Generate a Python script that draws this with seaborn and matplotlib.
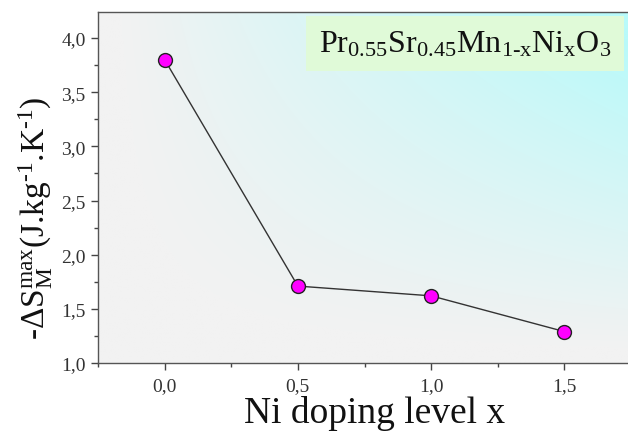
import numpy as np
import matplotlib
matplotlib.use("Agg")
import matplotlib.pyplot as plt
import seaborn as sns
from matplotlib.ticker import MultipleLocator, FuncFormatter
from matplotlib.colors import to_rgb

# data
doping = [0.0, 0.5, 1.0, 1.5]
neg_dS = [3.80, 1.71, 1.62, 1.29]
x_ticks = [0.0, 0.5, 1.0, 1.5]
y_ticks = [1.0, 1.5, 2.0, 2.5, 3.0, 3.5, 4.0]

sns.set_theme(style="ticks")
plt.rcParams["font.family"] = ["Liberation Serif", "DejaVu Serif"]
plt.rcParams["mathtext.fontset"] = "custom"
plt.rcParams["mathtext.rm"] = "Liberation Serif"
plt.rcParams["mathtext.it"] = "Liberation Serif:italic"
plt.rcParams["mathtext.bf"] = "Liberation Serif:bold"

fig = plt.figure(figsize=(6.28, 4.35), dpi=100)
ax = fig.add_axes([98 / 628, 71 / 435, 533 / 628, 351 / 435])

xlim = (-0.25, 1.75)
ylim = (1.0, 4.24)

# gradient background
nx, ny = 300, 200
gx = np.linspace(0, 1, nx)[None, :]
gy = np.linspace(0, 1, ny)[:, None]
t = np.clip(gx * gy * 1.15 - 0.05, 0, 1)
gray = np.array(to_rgb("#f2f2f2"))
cyan = np.array(to_rgb("#b8fafa"))
img = gray[None, None, :] * (1 - t[..., None]) + cyan[None, None, :] * t[..., None]
ax.imshow(img, extent=[xlim[0], xlim[1], ylim[0], ylim[1]], origin="lower",
          aspect="auto", zorder=0, interpolation="bilinear")

sns.lineplot(x=doping, y=neg_dS, ax=ax, color="#333333", linewidth=1.0,
             marker="o", markersize=10, markerfacecolor="#ff00ff",
             markeredgecolor="#222222", markeredgewidth=1.0, zorder=3)

ax.set_xlim(*xlim)
ax.set_ylim(*ylim)
ax.set_xticks(x_ticks)
ax.set_yticks(y_ticks)
ax.xaxis.set_minor_locator(MultipleLocator(0.25))
ax.yaxis.set_minor_locator(MultipleLocator(0.25))
fmt = FuncFormatter(lambda v, p: f"{v:.1f}".replace(".", ","))
ax.xaxis.set_major_formatter(fmt)
ax.yaxis.set_major_formatter(fmt)

ax.tick_params(axis="both", which="major", direction="out", length=5, width=1,
               color="#444444", labelsize=14, labelcolor="#333333", pad=4)
ax.tick_params(axis="x", which="major", pad=5)
ax.tick_params(axis="both", which="minor", direction="out", length=3, width=1,
               color="#444444")
ax.tick_params(top=False, right=False, which="both")

for s in ["left", "bottom", "top"]:
    ax.spines[s].set_color("#555555")
    ax.spines[s].set_linewidth(1.0)
ax.spines["right"].set_visible(False)

ax.set_xlabel("Ni doping level x", fontsize=27, color="#111111")
ax.xaxis.set_label_coords(0.518, -0.09)
ax.set_ylabel(r"$\mathrm{\text{-}\Delta S_M^{max}(J\text{.}kg^{\text{-}1}\text{.}K^{\text{-}1})}$",
              fontsize=24, color="#111111")
ax.yaxis.set_label_coords(-0.08, 0.415)

ax.text(0.689, 0.909,
        r"$\mathrm{Pr_{0.55}Sr_{0.45}Mn_{1\text{-}x}Ni_{x}O_{3}}$",
        transform=ax.transAxes, ha="center", va="center", fontsize=23,
        color="#111111", zorder=4,
        bbox=dict(boxstyle="square,pad=0.4", facecolor="#e0fad8",
                  edgecolor="none"))

fig.savefig("out.png", dpi=100)
